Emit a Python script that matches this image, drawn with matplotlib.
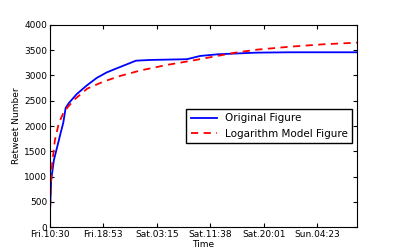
import numpy as np
import matplotlib.pyplot as plt

# データ-------------------------------------------------------------------
# 経過時間(h)と実測リツイート数
orig_t = [0, 0.2, 0.63, 1.15, 1.68, 2.09, 2.47, 2.98, 4.2, 5.76, 7.33, 8.9,
          10.5, 12.25, 13.5, 15.7, 21.5, 23.55, 26.4, 32.4, 37.7, 48.2]
orig_y = [270, 930, 1327, 1590, 1860, 2059, 2356, 2455, 2630, 2800, 2950, 3060,
          3142, 3230, 3293, 3307, 3322, 3386, 3420, 3452, 3459, 3459]

# 対数モデル
model_t = [0, 0.11, 0.36, 0.79, 1.41, 2.2, 3.77, 5.86, 8.37, 11.0, 14.1, 18.3,
           22.0, 26.4, 29.0, 32.4, 37.7, 42.9, 48.2]
model_y = [139, 733, 1267, 1723, 2059, 2283, 2515, 2740, 2877, 2990, 3096, 3208,
           3287, 3390, 3450, 3510, 3570, 3617, 3650]

tick_labels = ['Fri.10:30', 'Fri.18:53', 'Sat.03:15', 'Sat.11:38', 'Sat.20:01', 'Sun.04:23']
tick_step = 503 / 60.0  # 8時間23分

# グラフ出力---------------------------------------------------------------
fig = plt.figure(figsize=(3.96, 2.52), dpi=100)
ax = fig.add_axes([0.126, 0.099, 0.776, 0.802])

ax.plot(orig_t, orig_y, 'b-', lw=1.3, label='Original Figure')
ax.plot(model_t, model_y, 'r--', lw=1.3, dashes=(4, 3), label='Logarithm Model Figure')

ax.set_xlim(0, 48.2)
ax.set_ylim(0, 4000)
ax.set_xticks([i * tick_step for i in range(len(tick_labels))])
ax.set_xticklabels(tick_labels)
ax.set_yticks(np.arange(0, 4001, 500))
ax.tick_params(direction='in', top=True, right=True, labelsize=6.5, length=3, pad=2)
ax.set_xlabel('Time', fontsize=6.5, labelpad=1)
ax.set_ylabel('Retweet Number', fontsize=6.5, labelpad=2)
ax.legend(loc='center right', fontsize=7.5, fancybox=False, framealpha=1,
          edgecolor='black', handlelength=2.5)

fig.savefig('out.png', dpi=100)
